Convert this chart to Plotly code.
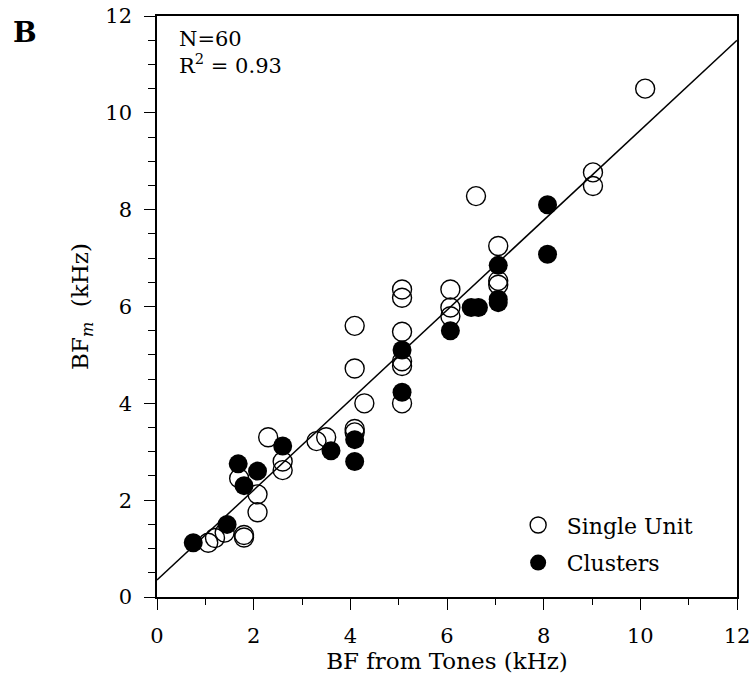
import plotly.graph_objects as go

# одиночные нейроны (открытые кружки)
single_bf_tone = [1.06, 1.2, 1.4, 1.8, 1.8, 2.08, 2.08, 1.7, 2.3, 2.6, 2.6, 3.3, 3.5,
                  4.09, 4.09, 4.29, 4.09, 4.09, 5.07, 5.07, 5.07, 5.07, 5.07, 5.07,
                  6.07, 6.07, 6.07, 6.6, 7.06, 7.06, 7.06, 9.02, 9.02, 10.1]
single_bf_m = [1.12, 1.22, 1.33, 1.28, 1.23, 1.75, 2.12, 2.45, 3.3, 2.8, 2.62, 3.22, 3.3,
               5.6, 4.72, 4.0, 3.47, 3.4, 6.35, 6.18, 5.48, 4.87, 4.77, 4.0,
               6.35, 5.98, 5.8, 8.28, 7.25, 6.53, 6.45, 8.77, 8.49, 10.5]

# кластеры (закрашенные)
cluster_bf_tone = [0.75, 1.45, 1.68, 1.8, 2.08, 2.6, 3.6, 4.09, 4.09, 5.07, 5.07,
                   6.07, 6.5, 6.65, 7.06, 7.06, 7.06, 8.08, 8.08]
cluster_bf_m = [1.12, 1.5, 2.75, 2.3, 2.6, 3.12, 3.02, 3.25, 2.8, 5.1, 4.23,
                5.5, 5.98, 5.98, 6.85, 6.15, 6.08, 8.1, 7.08]

# линия регрессии
fit_x = [0, 12]
fit_y = [0.35, 11.5]

FONT = "DejaVu Serif"

fig = go.Figure()

fig.add_trace(go.Scatter(
    x=fit_x, y=fit_y, mode="lines",
    line=dict(color="black", width=1.5),
    showlegend=False, hoverinfo="skip"
))

fig.add_trace(go.Scatter(
    x=single_bf_tone, y=single_bf_m, mode="markers",
    name="Single Unit", legendgroup="su",
    marker=dict(symbol="circle-open", size=19, color="black", line=dict(width=1.4))
))

fig.add_trace(go.Scatter(
    x=cluster_bf_tone, y=cluster_bf_m, mode="markers",
    name="Clusters", legendgroup="cl",
    marker=dict(symbol="circle", size=19, color="black", line=dict(width=0))
))

axis_common = dict(
    range=[0, 12], automargin=False,
    showline=True, linecolor="black", linewidth=1.5, mirror=True,
    showgrid=False, zeroline=False,
    ticks="outside", ticklen=11, tickwidth=1.3, tickcolor="black",
    dtick=2, tick0=0,
    tickfont=dict(family=FONT, size=21, color="black"),
)

fig.update_xaxes(
    **axis_common,
    ticklabelstandoff=8,
    minor=dict(dtick=1, ticks="outside", ticklen=6, tickcolor="black", tickwidth=1.2),
    title=dict(text="BF from Tones (kHz)", font=dict(family=FONT, size=23, color="black"),
               standoff=4),
)
fig.update_yaxes(
    **axis_common,
    ticklabelstandoff=8,
    minor=dict(dtick=0.5, ticks="outside", ticklen=7, tickcolor="black", tickwidth=1.2),
    title=dict(text="BF<sub><i>m</i></sub>  (kHz)", font=dict(family=FONT, size=23, color="black"),
               standoff=10),
)

fig.add_annotation(x=0.034, y=0.985, xref="paper", yref="paper",
                   xanchor="left", yanchor="top", showarrow=False, align="left",
                   text="N=60<br>R<sup>2</sup> = 0.93",
                   font=dict(family=FONT, size=21, color="black"))

fig.add_annotation(x=-0.228, y=0.972, xref="paper", yref="paper",
                   xanchor="center", yanchor="middle", showarrow=False,
                   text="<b>B</b>", font=dict(family=FONT, size=28, color="black"))

fig.update_layout(
    width=753, height=683,
    margin=dict(l=157, r=16, t=16, b=86),
    plot_bgcolor="white", paper_bgcolor="white",
    font=dict(family=FONT, size=21, color="black"),
    legend=dict(x=0.608, y=0.022, xanchor="left", yanchor="bottom",
                bgcolor="rgba(0,0,0,0)", font=dict(family=FONT, size=22),
                itemsizing="trace", itemwidth=47, tracegroupgap=6),
)

# убираем отступ body и панель инструментов
fig.write_html("out.html",
               config={"displayModeBar": False},
               post_script="document.body.style.margin='0';document.body.style.overflow='hidden';")
